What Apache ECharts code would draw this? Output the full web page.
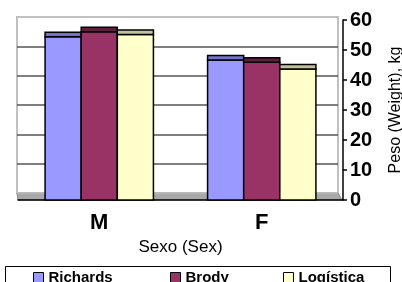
<!DOCTYPE html>
<html>
<head>
<meta charset="utf-8">
<script src="https://cdn.jsdelivr.net/npm/echarts@6/dist/echarts.min.js"></script>
<style>html,body{margin:0;padding:0;background:#fff}#c{width:402px;height:282px}</style>
</head>
<body>
<div id="c"></div>
<script>
const categories = ['M', 'F'];
const seriesNames = ['Richards', 'Brody', 'Logística'];
const richards = [54.4, 46.7];
const brody = [56.1, 45.9];
const logistica = [55.2, 43.7];
const yTicks = [0, 10, 20, 30, 40, 50, 60];

const values = [richards, brody, logistica];
const colors = ['#9999FF', '#993366', '#FFFFCC'];
const topColors = ['#7373C8', '#5E1F3F', '#C2C29A'];
const FONT = 'Arial, "Liberation Sans", sans-serif';

function makeRender(si) {
  return function (params, api) {
    const ci = api.value(0), v = api.value(1);
    const catW = api.size([1, 0])[0];
    const bw = catW * 36 / 162;
    const c = api.coord([ci, v]);
    const b = api.coord([ci, 0]);
    const x = c[0] + (si - 1.5) * bw;
    const depth = 4.5;
    return {
      type: 'group',
      children: [
        { type: 'rect', shape: { x: x, y: c[1], width: bw, height: b[1] - c[1] },
          style: { fill: colors[si], stroke: '#000', lineWidth: 1.5 } },
        { type: 'rect', shape: { x: x, y: c[1] - depth, width: bw, height: depth },
          style: { fill: topColors[si], stroke: '#000', lineWidth: 1.5 } }
      ]
    };
  };
}

const chart = echarts.init(document.getElementById('c'), null, { renderer: 'canvas' });
const legendLefts = [33, 170, 283];

chart.setOption({
  animation: false,
  backgroundColor: '#fff',
  textStyle: { fontFamily: FONT },
  grid: [
    { left: 18, right: 59, top: 20, bottom: 82, outerBoundsMode: 'none', containLabel: false },
    { left: 17, right: 64, top: 17, bottom: 89, show: true, borderColor: '#c0c0c0', borderWidth: 2, z: 0, outerBoundsMode: 'none', containLabel: false }
  ],
  xAxis: [
    { gridIndex: 0, type: 'category', data: categories,
      name: 'Sexo (Sex)', nameLocation: 'middle', nameGap: 34,
      nameTextStyle: { fontSize: 17, color: '#000', fontFamily: FONT },
      axisLine: { lineStyle: { color: '#000', width: 1.5 } },
      axisTick: { length: 4, lineStyle: { color: '#000', width: 1.5 } },
      axisLabel: { fontSize: 22, fontWeight: 'bold', color: '#000', margin: 12, fontFamily: FONT },
      z: 5 },
    { gridIndex: 1, type: 'category', data: categories, show: false }
  ],
  yAxis: [
    { gridIndex: 0, type: 'value', position: 'right', min: 0, max: 60, interval: 10,
      name: 'Peso (Weight), kg', nameLocation: 'middle', nameGap: 45, nameRotate: 90,
      nameMoveOverlap: false,
      nameTextStyle: { fontSize: 16, color: '#000', fontFamily: FONT },
      axisLine: { show: true, lineStyle: { color: '#000', width: 1.5 } },
      axisTick: { show: true, length: 4, lineStyle: { color: '#000', width: 1.5 } },
      axisLabel: { fontSize: 20, fontWeight: 'bold', color: '#000', margin: 7, fontFamily: FONT,
        formatter: function (v) { return yTicks.indexOf(v) >= 0 ? String(v) : ''; } },
      splitLine: { show: false },
      z: 5 },
    { gridIndex: 1, type: 'value', min: 0, max: 60, interval: 10,
      axisLine: { show: false }, axisTick: { show: false }, axisLabel: { show: false },
      splitLine: { show: true, lineStyle: { color: ['#c0c0c0', '#555', '#555', '#555', '#555', '#555', '#c0c0c0'], width: 1.5 } },
      z: 0 }
  ],
  legend: legendLefts.map(function (l, i) {
    return {
      data: [seriesNames[i]], left: l, top: 270, padding: 0,
      icon: 'rect', itemWidth: 10, itemHeight: 10,
      itemStyle: { borderColor: '#000', borderWidth: 1 },
      textStyle: { fontSize: 15, fontWeight: 'bold', color: '#000', fontFamily: FONT },
      selectedMode: false
    };
  }),
  graphic: [
    { type: 'polygon', z: 0, zlevel: 0, shape: { points: [[17, 193], [338, 193], [342, 200], [18, 200]] },
      style: { fill: '#a8a8a8', stroke: '#8a8a8a', lineWidth: 1 } },
    { type: 'rect', z: 0, shape: { x: 5.5, y: 266.5, width: 385, height: 30 },
      style: { fill: 'none', stroke: '#000', lineWidth: 1 } }
  ],
  series: seriesNames.map(function (n, si) {
    return {
      name: n, type: 'custom', xAxisIndex: 0, yAxisIndex: 0,
      itemStyle: { color: colors[si] },
      renderItem: makeRender(si),
      encode: { x: 0, y: 1 },
      data: values[si].map(function (v, ci) { return [ci, v]; }),
      z: 10
    };
  })
});
</script>
</body>
</html>
